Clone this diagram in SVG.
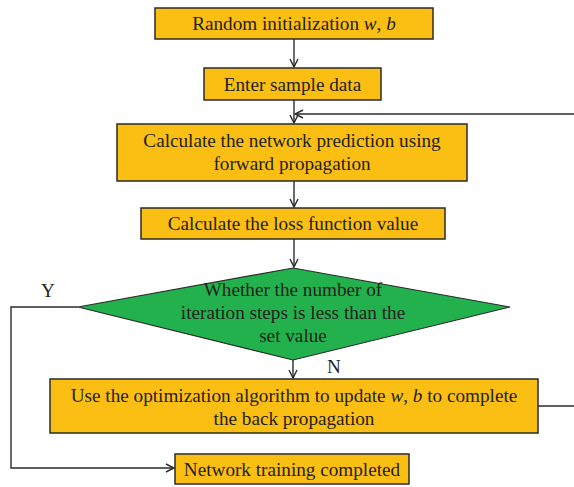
<svg xmlns="http://www.w3.org/2000/svg" width="574" height="487" viewBox="0 0 574 487">
<style>
.box{fill:#FBBE12;stroke:#2b2b2b;stroke-width:1.5}
.dia{fill:#22B14C;stroke:#2b2b2b;stroke-width:1.2}
.t{font-family:'Liberation Serif','DejaVu Serif',serif;font-size:19.2px;fill:#231f20;text-anchor:middle}
.ln{fill:none;stroke:#2b2b2b;stroke-width:1.4}
</style>
<defs>
<marker id="ah" markerWidth="10" markerHeight="10" refX="9" refY="5" orient="auto" markerUnits="userSpaceOnUse">
<path d="M1,1 L9,5 L1,9" fill="none" stroke="#2b2b2b" stroke-width="1.4"/>
</marker>
</defs>
<g id="connectors">
<path class="ln" d="M294,39 V67" marker-end="url(#ah)"/>
<path class="ln" d="M294,100 V123" marker-end="url(#ah)"/>
<path class="ln" d="M574,114 H295" marker-end="url(#ah)"/>
<path class="ln" d="M294,181 V207" marker-end="url(#ah)"/>
<path class="ln" d="M294,239 V267" marker-end="url(#ah)"/>
<path class="ln" d="M293,360 V378" marker-end="url(#ah)"/>
<path class="ln" d="M538,406 H574"/>
<path class="ln" d="M78,307 H11 V468 H174" marker-end="url(#ah)"/>
<text class="t" x="48" y="297">Y</text>
<text class="t" x="334" y="373">N</text>
</g>
<g id="n1">
<rect class="box" x="155" y="8" width="278" height="31"/>
<text class="t" x="294" y="30">Random initialization <tspan font-style="italic">w</tspan>, <tspan font-style="italic">b</tspan></text>
</g>
<g id="n2">
<rect class="box" x="204" y="68" width="177" height="32"/>
<text class="t" x="292.5" y="90.5">Enter sample data</text>
</g>
<g id="n3">
<rect class="box" x="117" y="124" width="350" height="57"/>
<text class="t" x="292" y="147">Calculate the network prediction using</text>
<text class="t" x="292" y="170">forward propagation</text>
</g>
<g id="n4">
<rect class="box" x="141" y="208" width="304" height="31"/>
<text class="t" x="293" y="230">Calculate the loss function value</text>
</g>
<g id="n5">
<polygon class="dia" points="293,268 510,307 293,360 78,307"/>
<text class="t" x="293" y="296">Whether the number of</text>
<text class="t" x="293" y="319">iteration steps is less than the</text>
<text class="t" x="293" y="342">set value</text>
</g>
<g id="n6">
<rect class="box" x="50" y="379" width="488" height="54"/>
<text class="t" x="294" y="402">Use the optimization algorithm to update <tspan font-style="italic">w</tspan>, <tspan font-style="italic">b</tspan> to complete</text>
<text class="t" x="294" y="425">the back propagation</text>
</g>
<g id="n7">
<rect class="box" x="175" y="454" width="234" height="30"/>
<text class="t" x="292" y="475.5">Network training completed</text>
</g>
</svg>
